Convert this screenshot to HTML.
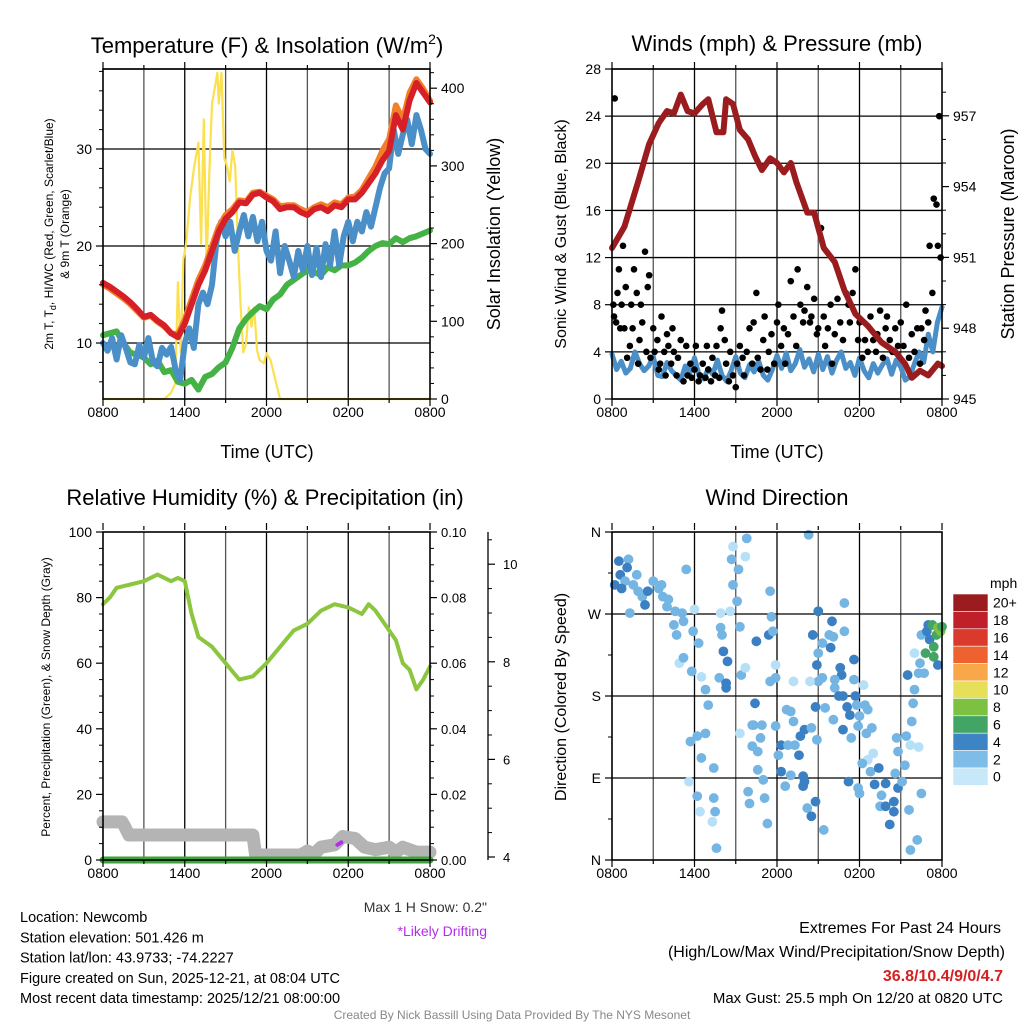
<!DOCTYPE html>
<html><head><meta charset="utf-8"><style>
html,body{margin:0;padding:0;background:#fff;}
svg{display:block;font-family:"Liberation Sans",Arial,sans-serif;}
</style></head><body>
<svg id="chart" width="1024" height="1024" viewBox="0 0 1024 1024" xmlns="http://www.w3.org/2000/svg"></svg>
<script>
// ---------- DATA ----------
const xTickLabels = ["0800","1400","2000","0200","0800"];
const tempTicks = [10,20,30];
const solarTicks = [0,100,200,300,400];
const windTicks = [0,4,8,12,16,20,24,28];
const pressTicks = [945,948,951,954,957];
const rhTicks = [0,20,40,60,80,100];
const precipTicks = ["0.00","0.02","0.04","0.06","0.08","0.10"];
const snowTicks = [4,6,8,10];
const dirTicks = ["N","E","S","W","N"];
const cbLabels = ["20+","18","16","14","12","10","8","6","4","2","0"];
const cbColors = ["#9b1c1f","#c0202a","#d93a2b","#ee6230","#f8a849","#e6df5a","#7dc142","#43a565","#3c84c4","#7fbde8","#c6e8f9"];

const airTemp = [16.2,15.8,15.3,14.8,14.2,13.5,12.7,12.9,12.3,11.8,11.0,10.6,12.0,14.0,16.0,17.5,19.5,21.5,22.8,23.5,24.5,24.4,25.3,25.5,25.0,24.6,23.8,24.0,24.0,23.5,23.2,23.8,24.0,23.6,24.2,24.0,24.8,24.8,25.5,26.5,27.5,28.8,29.8,33.5,32.0,35.0,36.8,35.8,34.8];
const temp9m = [16.0,15.6,15.1,14.6,14.0,13.3,12.6,12.8,12.2,11.7,11.0,10.9,12.4,14.5,16.5,18.0,20.0,22.0,23.2,23.8,24.7,24.6,25.5,25.6,25.2,24.8,24.1,24.2,24.2,23.8,23.5,24.0,24.3,24.0,24.5,24.3,25.0,25.1,25.8,27.0,28.2,29.8,31.0,34.5,33.0,35.8,37.2,36.2,35.0];
const windChill = [10,9.2,10.5,8.3,10.8,9.5,8.0,7.8,9.8,8.5,10.5,8.0,7.6,9.5,8.8,9.6,7.2,6.2,10.0,11.5,9.5,14.0,15.2,14.0,16.0,20.5,22.5,21.0,22.5,19.5,21.5,23.2,21.0,23.0,20.5,22.5,19.5,18.5,21.5,17.2,20.0,18.5,16.8,19.5,17.5,20.0,17.0,19.8,16.8,20.2,18.0,21.5,18.0,21.0,22.5,20.5,22.5,21.5,23.5,22.0,24.0,26.0,27.5,28.0,32.0,29.5,31.5,33.0,30.5,33.5,32.0,30.0,29.5];
const dewPoint = [10.8,11.0,11.2,10.0,9.0,8.8,8.5,7.8,8.2,7.0,7.2,6.0,5.8,6.2,5.2,6.5,6.8,7.5,8.0,9.5,11.5,12.5,13.2,13.8,13.5,14.5,15.0,16.0,16.5,17.0,17.5,17.3,17.0,17.8,17.5,18.0,18.0,18.3,18.8,19.5,20.0,20.3,20.2,20.8,20.4,20.8,21.0,21.3,21.6];
const solarHours = [0,4.5,5.0,5.3,5.5,5.7,5.9,6.1,6.4,6.7,7.0,7.2,7.4,7.6,7.8,8.0,8.2,8.4,8.5,8.7,8.9,9.1,9.3,9.5,9.7,9.9,10.1,10.3,10.5,10.7,10.9,11.1,11.3,11.5,11.8,12.0,12.3,12.6,13.0,24];
const solarValues = [0,0,8,20,150,60,180,200,260,300,330,200,360,170,290,380,400,420,380,420,310,300,280,320,300,200,120,60,72,118,93,118,63,50,46,59,50,28,0,0];

const sonicWind = [3.8,2.5,3.2,2.2,2.6,4.0,3.0,2.4,2.8,3.6,2.0,1.9,3.1,2.4,2.0,1.6,2.8,2.2,3.5,2.0,1.7,2.6,2.1,3.3,2.0,1.5,2.4,3.6,2.2,1.8,2.9,2.3,3.2,2.0,1.6,2.5,3.7,2.6,3.9,2.4,3.0,4.2,2.7,3.4,2.3,3.8,2.5,3.6,2.2,3.3,4.0,2.6,3.1,2.0,3.5,2.4,1.8,3.0,2.2,2.9,3.4,2.1,3.3,2.7,1.6,1.9,3.0,4.0,3.1,5.5,4.0,6.5,7.8];
const pressHours = [0,0.9,1.9,2.7,3.4,4.0,4.5,5.0,5.5,6.0,6.6,7.0,7.6,8.1,8.3,8.8,9.3,9.9,10.4,10.9,11.5,12.0,12.5,13.0,13.4,14.2,14.7,15.4,16.2,16.9,17.7,18.6,19.6,20.6,21.3,21.8,22.4,23.0,23.7,24];
const pressValues = [951.4,952.3,954.2,955.8,956.7,957.2,957.1,957.9,957.2,957.1,957.5,957.7,956.3,956.3,957.7,957.5,956.4,956.0,955.3,954.7,955.2,955.0,954.6,955.0,954.2,952.9,952.9,951.4,950.8,949.6,948.6,948.1,947.4,947.0,946.5,945.9,946.2,946.0,946.5,946.4];
const gusts = [[0.1,8],[0.15,7],[0.2,25.5],[0.3,6.5],[0.4,9],[0.5,11],[0.6,6],[0.7,8],[0.8,13],[0.9,6],[1.0,9.5],[1.1,3.5],[1.3,4.5],[1.4,8],[1.5,6],[1.6,11],[1.8,9],[1.9,3],[2.0,5],[2.1,8],[2.2,6.5],[2.4,12.5],[2.5,4],[2.6,9.5],[2.7,10.5],[2.8,3.5],[3.0,6],[3.1,4],[3.3,5],[3.4,2.5],[3.5,3],[3.6,7],[3.8,4],[3.9,2],[4.0,5.5],[4.1,4.5],[4.3,3],[4.4,6],[4.5,4],[4.7,2],[4.8,3.5],[5.0,5],[5.2,1.5],[5.4,4.5],[5.5,2],[5.7,3],[5.8,1.8],[6.0,2.5],[6.1,4.5],[6.3,1.5],[6.4,2],[6.6,3],[6.8,1.8],[6.9,4.5],[7.0,2.5],[7.2,1.5],[7.3,3.5],[7.5,2],[7.6,4.5],[7.8,1.8],[7.9,6],[8.0,7.5],[8.2,5],[8.3,3],[8.5,1.5],[8.6,4],[8.8,2],[9.0,1],[9.1,3],[9.3,4.5],[9.5,3.5],[9.6,2],[9.8,4],[10.0,6],[10.2,3],[10.3,6.5],[10.5,9],[10.6,3.5],[10.8,2.5],[11.0,5],[11.1,7],[11.3,2.5],[11.4,4],[11.6,5.5],[11.8,3],[12.0,6.5],[12.1,8],[12.3,4.5],[12.5,6],[12.6,3],[12.8,5.5],[13.0,10],[13.2,7],[13.4,4.5],[13.5,11],[13.7,8],[13.9,6.5],[14.0,7.5],[14.2,9.5],[14.4,6.5],[14.5,7],[14.7,8.5],[14.9,5.5],[15.0,6],[15.2,14.5],[15.4,7],[15.5,4.5],[15.7,6],[15.9,8],[16.0,3],[16.2,5.5],[16.4,8.5],[16.6,6.5],[16.8,5],[17.0,9],[17.2,8],[17.3,6.5],[17.5,9],[17.7,11],[17.9,5],[18.0,6.5],[18.2,3.5],[18.4,5],[18.6,4],[18.8,7],[19.0,5],[19.2,4],[19.3,5.5],[19.5,7.5],[19.7,3.5],[19.9,6],[20.0,7],[20.2,5],[20.4,4],[20.6,6],[20.8,4.5],[21.0,6.5],[21.2,4.5],[21.4,8],[21.6,3.5],[21.8,5.5],[22.0,4],[22.2,6],[22.4,3],[22.5,6],[22.7,5],[22.8,7.5],[23.0,6.5],[23.1,13],[23.3,9],[23.4,17],[23.6,16.5],[23.7,13],[23.8,24],[23.9,12]];

const rhHours = [0,0.5,1,2,3,4,5,5.5,6,6.5,7,8,9,10,11,12,13,14,15,16,17,18,19,19.5,20,21,21.5,22,22.5,23,23.5,24];
const rhValues = [78,80,83,84,85,87,85,86,85,75,68,65,60,55,56,60,65,70,72,76,78,77,75,78,76,70,67,60,58,52,55,59];
const precipValues = [0,0];
const snowHours = [0,1.4,1.6,1.9,11,11.2,14.5,15,15.5,16,17,17.6,18.5,19.2,20,21,21.5,22,23,24];
const snowDepth = [4.72,4.72,4.62,4.45,4.45,4.04,4.04,4.12,4.06,4.2,4.25,4.42,4.38,4.2,4.15,4.2,4.1,4.2,4.1,4.1];
const driftHours = [17.2,17.5];
const driftDepth = [4.25,4.3];

const dirPoints = [[0.5,328,2],[1.2,330,1],[0.2,302,2],[0.6,313,2],[1.1,321,2],[1.8,313,1],[0.95,306,1],[1.55,302,1],[0.7,298,2],[1.9,295,1],[2.2,289,1],[2.6,295,2],[2.4,280,2],[3.0,306,1],[3.4,298,1],[3.6,302,1],[3.7,289,1],[4.1,286,1],[4.0,278,1],[4.6,273,1],[5.1,271,1],[5.4,319,1],[1.3,271,1],[6.0,275,0],[4.5,258,1],[5.2,262,1],[4.7,247,1],[5.9,251,1],[4.9,216,0],[5.2,222,1],[5.8,207,1],[6.3,238,1],[6.5,201,0],[6.8,187,1],[7.0,170,1],[7.9,255,1],[8.0,247,1],[8.1,229,2],[8.4,218,2],[7.8,200,1],[8.3,194,2],[8.3,189,2],[8.6,273,0],[7.9,271,0],[8.8,344,0],[8.7,330,1],[8.8,302,1],[9.1,284,1],[9.2,319,1],[9.7,333,0],[9.8,353,1],[9.3,256,1],[9.4,203,1],[9.7,211,0],[10.5,240,2],[11.4,247,2],[11.6,267,1],[11.7,251,1],[11.5,295,1],[11.5,196,1],[11.9,214,0],[10.4,172,2],[10.3,148,1],[10.9,148,1],[10.8,134,1],[10.2,125,1],[10.6,119,1],[11.9,147,1],[12.1,115,1],[12.3,126,2],[12.7,165,1],[13.0,163,1],[13.2,152,1],[12.8,126,1],[13.3,126,1],[13.6,115,2],[13.7,136,2],[14.0,143,2],[14.5,145,1],[14.8,168,2],[14.9,132,1],[15.5,167,1],[15.0,196,1],[15.3,200,1],[14.4,196,0],[13.2,196,0],[11.9,200,1],[14.6,247,2],[15.0,273,2],[15.3,238,1],[15.8,247,1],[16.1,245,1],[15.9,233,2],[16.0,262,2],[15.0,227,1],[14.9,214,2],[16.6,211,2],[16.7,203,2],[16.2,198,1],[16.2,189,1],[16.9,282,1],[16.9,251,1],[17.6,220,2],[17.6,198,1],[16.5,180,2],[16.8,180,2],[17.1,168,2],[17.3,159,2],[17.7,180,2],[17.8,170,1],[18.0,158,1],[18.4,170,1],[18.6,165,1],[16.1,154,1],[16.8,143,2],[17.4,134,1],[17.9,147,1],[18.3,192,0],[18.5,139,1],[18.9,145,1],[19.0,117,0],[18.6,110,0],[18.2,106,1],[18.8,97,1],[19.4,101,2],[19.1,83,2],[19.9,84,2],[19.6,71,1],[19.5,59,1],[19.9,59,2],[20.5,64,2],[20.5,53,2],[20.2,39,2],[20.8,79,2],[21.1,86,1],[20.6,95,1],[20.7,134,1],[21.4,136,1],[20.8,119,1],[21.3,104,1],[21.7,126,0],[22.3,124,0],[21.8,152,1],[21.9,172,1],[22.0,187,1],[21.5,203,2],[22.4,216,1],[22.7,205,1],[22.3,205,1],[22.0,227,0],[22.5,247,1],[22.9,251,2],[23.0,258,2],[23.1,242,2],[23.4,234,3],[22.8,227,3],[23.4,223,3],[23.3,258,3],[23.6,247,3],[23.7,255,4],[23.9,251,4],[24.0,256,3],[23.7,214,2],[22.5,73,1],[21.6,55,1],[22.2,22,1],[21.7,11,1],[15.4,33,1],[14.3,357,1],[11.0,88,1],[11.1,68,1],[11.3,40,1],[10.0,62,1],[9.9,75,1],[10.6,99,1],[12.3,97,2],[12.6,81,1],[13.0,93,1],[13.9,92,2],[14.0,86,2],[13.9,81,2],[14.2,57,1],[14.5,48,2],[14.8,64,2],[7.6,13,1],[7.3,42,0],[7.5,53,1],[7.4,68,1],[6.4,53,0],[6.2,70,1],[5.6,86,0],[7.4,101,1],[6.5,112,1],[5.7,130,1],[6.2,136,1],[6.8,139,1],[9.3,139,0],[10.2,148,1],[17.2,86,2],[18.0,73,1],[17.9,79,1]];
const speedClassColors = ["#b5e0f7","#74b5e4","#3b80c2","#43a565","#7dc142"];

// ---------- DRAWING ----------
const NS = "http://www.w3.org/2000/svg";
const svg = document.getElementById("chart");
function mk(tag, attrs, parent, text) {
  const e = document.createElementNS(NS, tag);
  for (const k in attrs) e.setAttribute(k, attrs[k]);
  if (text !== undefined) e.textContent = text;
  (parent || svg).appendChild(e);
  return e;
}
function txt(x, y, s, size, anchor, extra, parent) {
  const a = {x:x, y:y, "font-size":size, "text-anchor":anchor||"middle", fill:"#000"};
  if (extra) for (const k in extra) a[k] = extra[k];
  return mk("text", a, parent, s);
}
function even(arr){ return arr.map((v,i)=>i*24/(arr.length-1)); }
function poly(xs, ys, fx, fy, color, w, g, name) {
  const pts = xs.map((h,i)=>fx(h).toFixed(1)+","+fy(ys[i]).toFixed(1)).join(" ");
  const p = mk("polyline", {points:pts, fill:"none", stroke:color, "stroke-width":w, "stroke-linejoin":"round", "stroke-linecap":"round"}, g);
  
  
  return p;
}
function panelFrame(name) {
  const g = mk("g", {});
  
  
  return g;
}
function vgrid(g, x0, x1, y0, y1, fx) {
  for (let h = 3; h < 24; h += 3) {
    const l = mk("line", {x1:fx(h), x2:fx(h), y1:y0, y2:y1, stroke:(h%6===0)?"#000":"#555", "stroke-width":1.3}, g);
    
    
  }
}
function hline(g, x0, x1, y) {
  const l = mk("line", {x1:x0, x2:x1, y1:y, y2:y, stroke:"#000", "stroke-width":1.3}, g);
  
  
}
function border(g, x0, x1, y0, y1) {
  const r = mk("rect", {x:x0, y:y0, width:x1-x0, height:y1-y0, fill:"none", stroke:"#000", "stroke-width":1.6}, g);
  
  
}
function xAxis(g, fx, y1) {
  for (let h = 0; h <= 24; h += 3) {
    mk("line", {x1:fx(h), x2:fx(h), y1:y1, y2:y1+(h%6===0?7:4), stroke:"#000", "stroke-width":1.2}, g);
    mk("line", {x1:fx(h), x2:fx(h), y1:y1-330, y2:y1-330-(h%6===0?7:4), stroke:"#000", "stroke-width":1.2}, g);
  }
  xTickLabels.forEach((s,i)=>{
    const t = txt(fx(i*6), y1+18, s, 14, "middle", null, g);
    
    
  });
}
function yTicks(g, vals, fy, x, side, labels, size, minorVals) {
  const dir = side === "left" ? -1 : 1;
  vals.forEach((v,i)=>{
    const y = fy(v);
    mk("line", {x1:x, x2:x+dir*7, y1:y, y2:y, stroke:"#000", "stroke-width":1.2}, g);
    const t = txt(x+dir*11, y+5, labels ? labels[i] : String(v), size||14, side==="left"?"end":"start", null, g);
    
    
  });
  (minorVals||[]).forEach(v=>{
    const y = fy(v);
    mk("line", {x1:x, x2:x+dir*4, y1:y, y2:y, stroke:"#000", "stroke-width":1}, g);
  });
}
function rotLabel(x, y, s, size, g, name) {
  const t = txt(x, y, s, size, "middle", {transform:`rotate(-90 ${x} ${y})`}, g);
  
  
  return t;
}

// ===== Panel 1 =====
(function(){
  const x0=103,x1=430,y0=69,y1=399;
  const fx = h => x0 + h*(x1-x0)/24;
  const fT = v => 343 - (v-10)*9.7;
  const fS = v => 399 - v*0.777;
  const g = panelFrame("temperature-panel");
  vgrid(g,x0,x1,y0,y1,fx);
  tempTicks.forEach(v=>hline(g,x0,x1,fT(v)));
  hline(g,x0,x1,y0);
  const gs = mk("g",{},g);
  poly(solarHours, solarValues, fx, fS, "#fbe04f", 2.2, gs, "solar-insolation-line");
  poly(even(dewPoint), dewPoint, fx, fT, "#45b245", 6, gs, "dewpoint-line");
  poly(even(windChill), windChill, fx, fT, "#4a8fc8", 6, gs, "windchill-line");
  poly(even(temp9m), temp9m, fx, fT, "#f27f2a", 6, gs, "temp-9m-line");
  poly(even(airTemp), airTemp, fx, fT, "#d61f26", 6, gs, "air-temp-line");
  border(g,x0,x1,y0,y1);
  xAxis(g,fx,y1);
  const minorT=[]; for(let v=6;v<=38;v+=2) if(v%10) minorT.push(v);
  yTicks(g,tempTicks,fT,x0,"left",null,14,minorT);
  const minorS=[]; for(let v=20;v<=420;v+=20) if(v%100) minorS.push(v);
  yTicks(g,solarTicks,fS,x1,"right",null,14,minorS);
  const t = mk("text",{x:267,y:53,"font-size":22,"text-anchor":"middle"},g);
   
  t.textContent="Temperature (F) & Insolation (W/m";
  mk("tspan",{dy:-9,"font-size":14},t,"2");
  mk("tspan",{dy:9},t,")");
  const tx = txt(267,458,"Time (UTC)",18,"middle",null,g);
   
  const yl = mk("text",{x:53,y:234,"font-size":12,"text-anchor":"middle",transform:"rotate(-90 53 234)"},g);
   
  yl.textContent="2m T, T";
  mk("tspan",{dy:3,"font-size":9},yl,"d");
  mk("tspan",{dy:-3},yl,", HI/WC (Red, Green, Scarlet/Blue)");
  rotLabel(69,234,"& 9m T (Orange)",12,g,"temperature-y-axis-title-line2");
  rotLabel(500,234,"Solar Insolation (Yellow)",18,g,"solar-y-axis-title");
})();

// ===== Panel 2 =====
(function(){
  const x0=612,x1=942,y0=69,y1=399;
  const fx = h => x0 + h*(x1-x0)/24;
  const fW = v => 399 - v*330/28;
  const fP = v => 399 - (v-945)*23.6;
  const g = panelFrame("winds-panel");
  vgrid(g,x0,x1,y0,y1,fx);
  windTicks.forEach(v=>hline(g,x0,x1,fW(v)));
  const gs = mk("g",{},g);
  poly(even(sonicWind), sonicWind, fx, fW, "#4a8fc8", 5, gs, "sonic-wind-line");
  gusts.forEach(p=>{
    const c = mk("circle",{cx:fx(p[0]),cy:fW(p[1]),r:3.3,fill:"#000"},gs);
    
    
  });
  poly(pressHours, pressValues, fx, fP, "#9b1c1f", 6, gs, "pressure-line");
  border(g,x0,x1,y0,y1);
  xAxis(g,fx,y1);
  yTicks(g,windTicks,fW,x0,"left",null,14,[]);
  const minorP=[]; for(let v=946;v<=958;v++) if((v-945)%3) minorP.push(v);
  yTicks(g,pressTicks,fP,x1,"right",null,14,minorP);
  const t = txt(777,51,"Winds (mph) & Pressure (mb)",22,"middle",null,g);
   
  const tx = txt(777,458,"Time (UTC)",18,"middle",null,g);
   
  rotLabel(566,234,"Sonic Wind & Gust (Blue, Black)",16,g,"wind-y-axis-title");
  rotLabel(1014,234,"Station Pressure (Maroon)",18,g,"pressure-y-axis-title");
})();

// ===== Panel 3 =====
(function(){
  const x0=103,x1=430,y0=532,y1=860;
  const fx = h => x0 + h*(x1-x0)/24;
  const fR = v => 860 - v*3.28;
  const fD = v => 857 - (v-4)*48.8;
  const g = panelFrame("humidity-panel");
  vgrid(g,x0,x1,y0,y1,fx);
  const gs = mk("g",{},g);
  poly(snowHours, snowDepth, fx, fD, "#b4b4b4", 13, gs, "snow-depth-line");
  poly(driftHours, driftDepth, fx, fD, "#b030e8", 4, gs, "drifting-marker");
  poly([0,24], precipValues, fx, v=>fR(v*1000), "#3aa63a", 7, gs, "precipitation-line");
  poly(rhHours, rhValues, fx, fR, "#8cc63f", 4, gs, "relative-humidity-line");
  border(g,x0,x1,y0,y1);
  xAxis(g,fx,y1);
  const minorR=[]; for(let v=5;v<100;v+=5) if(v%20) minorR.push(v);
  yTicks(g,rhTicks,fR,x0,"left",null,14,minorR);
  yTicks(g,rhTicks,fR,x1,"right",precipTicks,13,minorR);
  mk("line",{x1:488,x2:488,y1:532,y2:860,stroke:"#000","stroke-width":1.3},g);
  snowTicks.forEach(v=>{
    mk("line",{x1:488,x2:495,y1:fD(v),y2:fD(v),stroke:"#000","stroke-width":1.2},g);
    const t = txt(503,fD(v)+5,String(v),13,"start",null,g);
     
  });
  for(let v=4.5;v<=10.5;v+=0.5){ if(v%2) mk("line",{x1:488,x2:492,y1:fD(v),y2:fD(v),stroke:"#000","stroke-width":1},g); }
  const t = txt(265,505,"Relative Humidity (%) & Precipitation (in)",22,"middle",null,g);
   
  rotLabel(50,697,"Percent, Precipitation (Green), & Snow Depth (Gray)",12,g,"humidity-y-axis-title");
})();

// ===== Panel 4 =====
(function(){
  const x0=612,x1=942,y0=532,y1=860;
  const fx = h => x0 + h*(x1-x0)/24;
  const fD = v => 860 - v*328/360;
  const g = panelFrame("wind-direction-panel");
  vgrid(g,x0,x1,y0,y1,fx);
  [90,180,270].forEach(v=>hline(g,x0,x1,fD(v)));
  const gs = mk("g",{},g);
  dirPoints.forEach(p=>{
    const c = mk("circle",{cx:fx(p[0]),cy:fD(p[1]),r:4.9,fill:speedClassColors[p[2]]},gs);
    
    
  });
  border(g,x0,x1,y0,y1);
  xAxis(g,fx,y1);
  yTicks(g,[0,90,180,270,360],fD,x0,"left",dirTicks,14,[45,135,225,315]);
  const t = txt(777,505,"Wind Direction",22,"middle",null,g);
   
  rotLabel(566,697,"Direction (Colored By Speed)",16,g,"direction-y-axis-title");
  const cb = mk("g",{},g);
   
  const bh = 17.4, by = 594;
  cbColors.forEach((c,i)=>{
    const r = mk("rect",{x:953,y:by+i*bh,width:35,height:bh,fill:c,stroke:"#fff","stroke-width":0.6},cb);
     
    const l = txt(993,by+i*bh+bh/2+5,cbLabels[i],14,"start",null,cb);
     
  });
  const u = txt(990,588,"mph",14,"start",null,cb);
   
})();

// ===== Footer =====
(function(){
  const g = mk("g",{});
   
  const lines = ["Location: Newcomb","Station elevation: 501.426 m","Station lat/lon: 43.9733; -74.2227","Figure created on Sun, 2025-12-21, at 08:04 UTC","Most recent data timestamp: 2025/12/21 08:00:00"];
  lines.forEach((s,i)=>{
    const t = txt(20,922+i*20.3,s,14.5,"start",null,g);
     
  });
  let t = txt(487,912,"Max 1 H Snow: 0.2\"",14,"end",{fill:"#333"},g);
   
  t = txt(487,936,"*Likely Drifting",14,"end",{fill:"#b030e8"},g);
   
  t = txt(1001,933,"Extremes For Past 24 Hours",16,"end",null,g);
   
  t = txt(1005,957,"(High/Low/Max Wind/Precipitation/Snow Depth)",16,"end",null,g);
   
  t = txt(1003,981,"36.8/10.4/9/0/4.7",16,"end",{fill:"#d42020","font-weight":"bold"},g);
   
  t = txt(1003,1003,"Max Gust: 25.5 mph On 12/20 at 0820 UTC",15,"end",null,g);
   
  t = txt(512,1019,"Created By Nick Bassill Using Data Provided By The NYS Mesonet",12,"middle",{fill:"#888"},g);
   
})();
</script>
</body></html>
